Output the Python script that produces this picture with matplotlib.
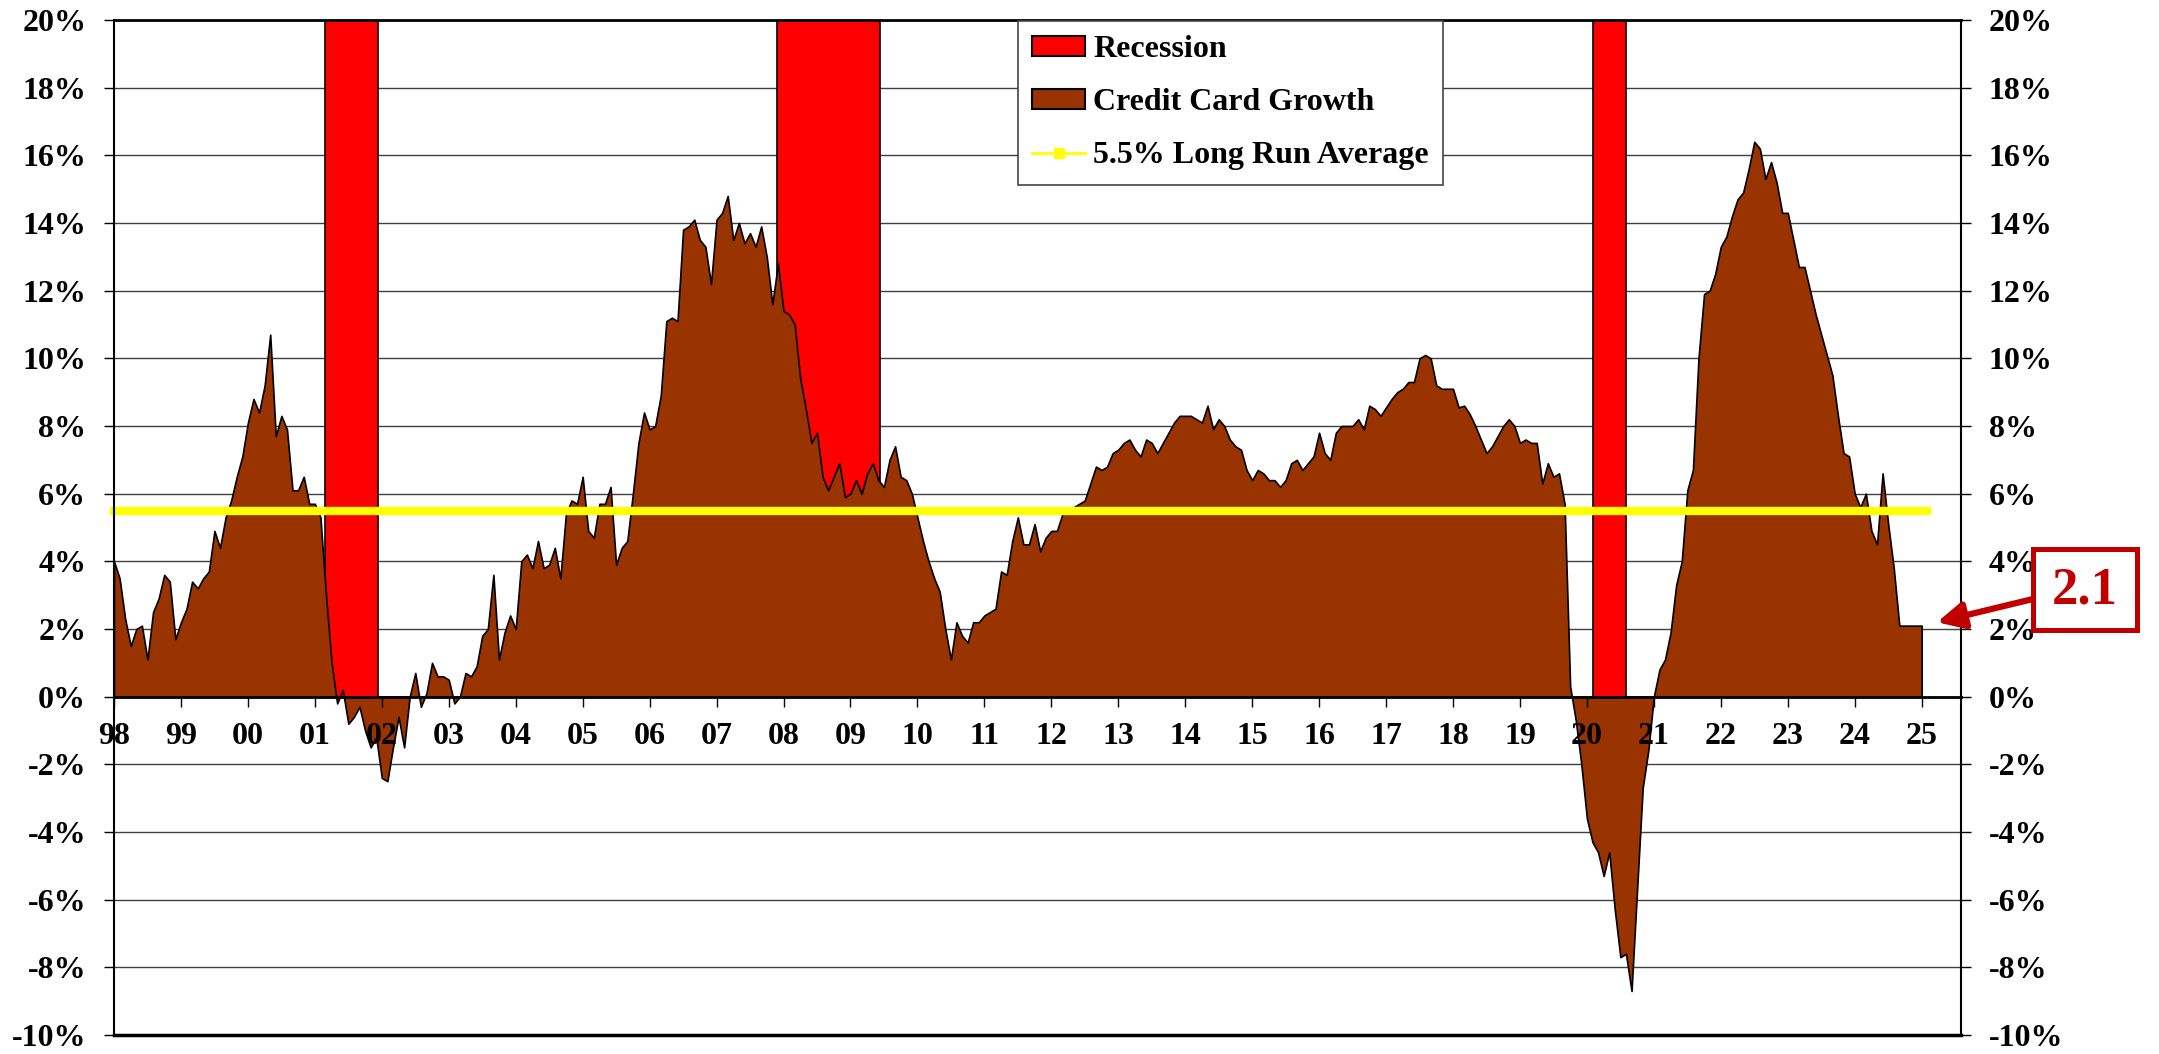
import numpy as np
import matplotlib
matplotlib.use("Agg")
import matplotlib.pyplot as plt
from matplotlib.patches import Patch, Rectangle
from matplotlib.lines import Line2D

plt.rcParams['font.family'] = ['Liberation Serif', 'DejaVu Serif']
plt.rcParams['font.weight'] = 'bold'

# monthly credit card growth (%), Jan 1998 .. Jan 2025
growth = [
    4.0, 3.5, 2.3, 1.5, 2.0, 2.1, 1.1, 2.5, 2.9, 3.6, 3.4, 1.7,        # 1998
    2.2, 2.6, 3.4, 3.2, 3.5, 3.7, 4.9, 4.4, 5.3, 5.8, 6.5, 7.1,        # 1999
    8.1, 8.8, 8.4, 9.2, 10.7, 7.7, 8.3, 7.9, 6.1, 6.1, 6.5, 5.7,       # 2000
    5.7, 5.3, 3.0, 1.0, -0.2, 0.2, -0.8, -0.6, -0.3, -1.0, -1.5, -1.2,  # 2001
    -2.4, -2.5, -1.5, -0.6, -1.5, 0.0, 0.7, -0.3, 0.1, 1.0, 0.6, 0.6,  # 2002
    0.5, -0.2, 0.0, 0.7, 0.6, 0.9, 1.8, 2.0, 3.6, 1.1, 1.9, 2.4,       # 2003
    2.0, 4.0, 4.2, 3.8, 4.6, 3.8, 3.9, 4.4, 3.5, 5.4, 5.8, 5.7,        # 2004
    6.5, 4.9, 4.7, 5.7, 5.7, 6.2, 3.9, 4.4, 4.6, 6.0, 7.5, 8.4,        # 2005
    7.9, 8.0, 8.9, 11.1, 11.2, 11.1, 13.8, 13.9, 14.1, 13.5, 13.3, 12.2,  # 2006
    14.1, 14.3, 14.8, 13.5, 14.0, 13.4, 13.7, 13.3, 13.9, 13.0, 11.6, 12.8,  # 2007
    11.4, 11.3, 11.0, 9.4, 8.5, 7.5, 7.8, 6.5, 6.1, 6.5, 6.9, 5.9,     # 2008
    6.0, 6.4, 6.0, 6.6, 6.9, 6.4, 6.2, 7.0, 7.4, 6.5, 6.4, 6.0,        # 2009
    5.3, 4.6, 4.0, 3.5, 3.1, 2.0, 1.1, 2.2, 1.8, 1.6, 2.2, 2.2,        # 2010
    2.4, 2.5, 2.6, 3.7, 3.6, 4.6, 5.3, 4.5, 4.5, 5.1, 4.3, 4.7,        # 2011
    4.9, 4.9, 5.4, 5.5, 5.6, 5.7, 5.8, 6.3, 6.8, 6.7, 6.8, 7.2,        # 2012
    7.3, 7.5, 7.6, 7.3, 7.1, 7.6, 7.5, 7.2, 7.5, 7.8, 8.1, 8.3,        # 2013
    8.3, 8.3, 8.2, 8.1, 8.6, 7.9, 8.2, 8.0, 7.6, 7.4, 7.3, 6.7,        # 2014
    6.4, 6.7, 6.6, 6.4, 6.4, 6.2, 6.4, 6.9, 7.0, 6.7, 6.9, 7.1,        # 2015
    7.8, 7.2, 7.0, 7.8, 8.0, 8.0, 8.0, 8.2, 7.9, 8.6, 8.5, 8.3,        # 2016
    8.55, 8.8, 9.0, 9.1, 9.3, 9.3, 10.0, 10.1, 10.0, 9.2, 9.1, 9.1,    # 2017
    9.1, 8.55, 8.6, 8.35, 8.0, 7.6, 7.2, 7.4, 7.7, 8.0, 8.2, 8.0,      # 2018
    7.5, 7.6, 7.5, 7.5, 6.3, 6.9, 6.5, 6.6, 5.7, 0.3, -0.7, -2.0,      # 2019
    -3.6, -4.3, -4.6, -5.3, -4.6, -6.3, -7.7, -7.6, -8.7, -5.7, -2.7, -1.6,  # 2020
    0.0, 0.8, 1.1, 1.9, 3.3, 4.0, 6.1, 6.7, 10.0, 11.9, 12.0, 12.5,    # 2021
    13.3, 13.6, 14.2, 14.7, 14.9, 15.6, 16.4, 16.2, 15.3, 15.8, 15.2, 14.3,  # 2022
    14.3, 13.5, 12.7, 12.7, 12.0, 11.3, 10.7, 10.1, 9.5, 8.3, 7.2, 7.1,  # 2023
    6.0, 5.6, 6.0, 4.9, 4.5, 6.6, 5.1, 3.8, 2.1, 2.1, 2.1, 2.1,        # 2024
    2.1,                                                               # 2025
]
start_year = 1998

# recession periods (decimal years)
rec_start = [2001.15, 2007.90, 2020.09]
rec_end = [2001.95, 2009.44, 2020.58]
rec_top = 20

long_run_avg = 5.5
last_value = "2.1"

years = list(range(1998, 2026))
year_labels = [str(y)[2:] for y in years]
y_ticks = list(range(-10, 21, 2))

x = start_year + np.arange(len(growth)) / 12.0
g = np.array(growth)

W, H = 2159, 1054
fig = plt.figure(figsize=(W / 100, H / 100), dpi=100)
ax = fig.add_axes([114 / W, 19 / H, (1961 - 114) / W, (1035 - 20) / H])

# horizontal gridlines, kept behind everything
for v in y_ticks:
    ax.axhline(v, color='#404040', lw=1, zorder=0.5)

# recession bars
for s, e in zip(rec_start, rec_end):
    ax.fill_between([s, e], 0, rec_top, facecolor='#FF0000', edgecolor='black',
                    linewidth=1.2, zorder=1)

# credit card growth area
ax.fill_between(x, 0, g, facecolor='#993300', edgecolor='black', linewidth=1.2, zorder=2)

# long run average
ax.plot([x[0], x[-1] + 1 / 12], [long_run_avg, long_run_avg], color='#FFFF00', lw=6,
        solid_capstyle='projecting', clip_on=False, zorder=2.2)

ax.set_xlim(1998, 1998 + 1847 / 66.95)
ax.set_ylim(-10, 20)

ax.set_yticks(y_ticks)
ax.set_yticklabels([f'{v}%' for v in y_ticks])
ax.tick_params(axis='y', which='both', left=True, right=True, labelleft=True,
               labelright=True, direction='out', length=7, width=1, pad=13,
               labelsize=23)

ax.spines['bottom'].set_position(('data', 0))
ax.spines['bottom'].set_linewidth(2)
ax.spines['top'].set_linewidth(2)
ax.spines['left'].set_linewidth(1.5)
ax.spines['right'].set_linewidth(1.5)
ax.axhline(-10, color='black', lw=2.5, zorder=3, clip_on=False)

ax.set_xticks(years)
ax.set_xticklabels(year_labels)
ax.tick_params(axis='x', direction='out', length=7, width=1, pad=11, labelsize=23)
ax.xaxis.set_zorder(4)

# legend
handles = [
    Patch(facecolor='#FF0000', edgecolor='black', linewidth=1.5),
    Patch(facecolor='#993300', edgecolor='black', linewidth=1.5),
    Line2D([], [], color='#FFFF00', lw=2, marker='s', ms=7, mec='#FFFF00'),
]
labels = ['Recession', 'Credit Card Growth', '5.5% Long Run Average']
leg = ax.legend(handles, labels, loc='upper left',
                bbox_to_anchor=(1018 / W, 1 - 21 / H), bbox_transform=fig.transFigure,
                borderaxespad=0, fancybox=False, framealpha=1, edgecolor='#444444',
                prop={'family': 'Liberation Serif', 'weight': 'bold', 'size': 23},
                handlelength=1.65, handleheight=0.55, handletextpad=0.25,
                labelspacing=0.75, borderpad=0.45)
leg.get_frame().set_linewidth(1.2)
leg.set_zorder(5)

# callout for the latest value
fig.add_artist(Rectangle((2033 / W, 1 - 630 / H), 104 / W, 81 / H,
                         transform=fig.transFigure, facecolor='white',
                         edgecolor='#C00000', linewidth=3.6, zorder=5))
fig.text(2085 / W, 1 - 590 / H, last_value, ha='center', va='center',
         fontsize=38, fontweight='bold', color='#C00000', zorder=6)
ax.annotate('', xy=(2025.23, 2.2), xycoords='data',
            xytext=(2033, H - 599), textcoords='figure pixels',
            arrowprops=dict(arrowstyle='-|>,head_length=0.8,head_width=0.4',
                            color='#C00000', lw=4.5, mutation_scale=20,
                            shrinkA=0, shrinkB=0),
            annotation_clip=False, zorder=6)

fig.savefig('out.png', dpi=100)
